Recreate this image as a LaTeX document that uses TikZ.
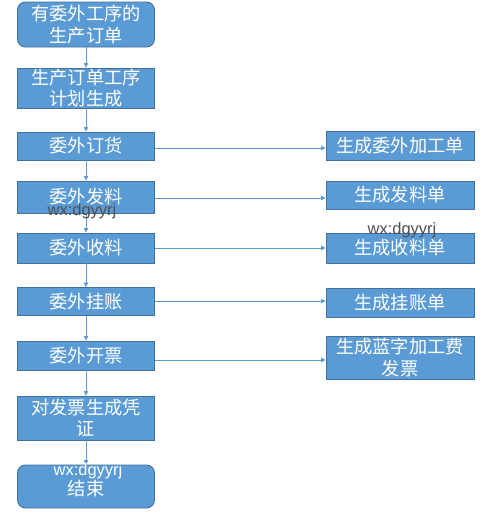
\documentclass[tikz,border=0pt]{standalone}
\usepackage{fontspec}
\setmainfont{Noto Sans CJK SC}
\newfontfamily\wmfont{Liberation Sans}
\usetikzlibrary{arrows.meta}
\definecolor{boxfill}{HTML}{5B9BD5}
\definecolor{boxline}{HTML}{41719C}
\definecolor{arrowc}{HTML}{5B9BD5}
\definecolor{wmgray}{HTML}{505050}
\tikzset{
  base/.style={draw=boxline, line width=0.9pt, fill=boxfill, text=white, align=center,
    inner sep=0pt, font=\fontsize{18.2}{21.5}\selectfont},
  lbox/.style={base, minimum width=137pt},
  rbox/.style={base, minimum width=148pt},
  rbase/.style={lbox, rounded corners=8pt},
  arr/.style={draw=arrowc, line width=0.8pt, -{Triangle[width=4.5pt,length=4.5pt]}},
  wm/.style={inner sep=0pt, font=\wmfont\fontsize{16.5}{18}\selectfont, text=wmgray},
}
\begin{document}
\begin{tikzpicture}[x=1pt,y=-1pt]
\useasboundingbox (0,0) rectangle (485,514);
\fill[white] (0,0) rectangle (485,514);
% left column
\node[rbase, minimum height=45pt] (b1) at (86,24.5) {有委外工序的\\生产订单};
\node[lbox, minimum height=40pt] (b2) at (86,88) {生产订单工序\\计划生成};
\node[lbox, minimum height=28pt] (b3) at (86,146) {委外订货};
\node[lbox, minimum height=32pt] (b4) at (86,197) {委外发料};
\node[lbox, minimum height=30pt] (b5) at (86,248) {委外收料};
\node[lbox, minimum height=28pt] (b6) at (86,301.5) {委外挂账};
\node[lbox, minimum height=29pt] (b7) at (86,355.5) {委外开票};
\node[lbox, minimum height=44pt] (b8) at (86,418) {对发票生成凭\\证};
\node[rbase, minimum height=43pt] (b9) at (86,486.5) {};
\node[inner sep=0pt, text=white, font=\fontsize{18.2}{21.5}\selectfont] (b9t) at (86,489) {结束};
% right column
\node[rbox, minimum height=29pt] (r1) at (400,145.5) {生成委外加工单};
\node[rbox, minimum height=28pt] (r2) at (400,195) {生成发料单};
\node[rbox, minimum height=30pt] (r3) at (400,248) {生成收料单};
\node[rbox, minimum height=29pt] (r4) at (400,302.5) {生成挂账单};
\node[rbox, minimum height=43pt] (r5) at (400,357.5) {生成蓝字加工费\\发票};
% vertical arrows
\draw[arr] (b1) -- (b2);
\draw[arr] (b2) -- (b3);
\draw[arr] (b3) -- (b4);
\draw[arr] (b4) -- (b5);
\draw[arr] (b5) -- (b6);
\draw[arr] (b6) -- (b7);
\draw[arr] (b7) -- (b8);
\draw[arr] (b8) -- (b9);
% horizontal arrows
\coordinate (h1) at (155,148);
\coordinate (h2) at (155,198);
\coordinate (h3) at (155,248);
\coordinate (h4) at (155,301);
\coordinate (h5) at (155,360);
\draw[arr] (h1) -- (h1 -| r1.west);
\draw[arr] (h2) -- (h2 -| r2.west);
\draw[arr] (h3) -- (h3 -| r3.west);
\draw[arr] (h4) -- (h4 -| r4.west);
\draw[arr] (h5) -- (h5 -| r5.west);
% watermarks
\node[wm] (w1) at (82,211) {wx:dgyyrj};
\node[wm] (w2) at (402,230) {wx:dgyyrj};
\node[wm, text=white] (w3) at (88,471) {wx:dgyyrj};
\end{tikzpicture}
\end{document}
